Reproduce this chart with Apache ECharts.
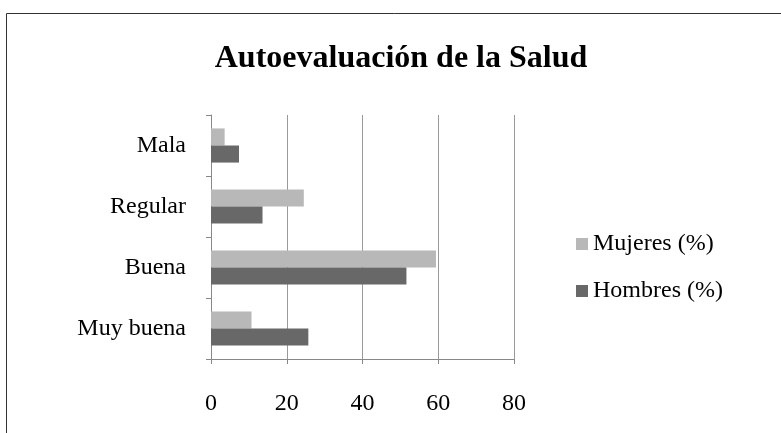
<!DOCTYPE html>
<html>
<head>
<meta charset="utf-8">
<script src="https://cdn.jsdelivr.net/npm/echarts@6/dist/echarts.min.js"></script>
<style>
  html, body { margin: 0; padding: 0; background: #fff; }
  #chart { width: 781px; height: 433px; }
</style>
</head>
<body>
<div id="chart"></div>
<script>
const categories = ['Mala', 'Regular', 'Buena', 'Muy buena']
const mujeres = [3.6, 24.5, 59.4, 10.7]
const hombres = [7.4, 13.6, 51.6, 25.7]
const xTicks = [0, 20, 40, 60, 80]

const serif = '"Liberation Serif", "DejaVu Serif", serif'

const chart = echarts.init(document.getElementById('chart'))

chart.setOption({
  animation: false,
  graphic: [{
    type: 'rect',
    shape: { x: 6.5, y: 13.5, width: 800, height: 500 },
    style: { fill: 'none', stroke: '#333', lineWidth: 1 }
  }],
  title: {
    text: 'Autoevaluación de la Salud',
    left: 396,
    top: 38,
    textAlign: 'center',
    textStyle: { fontFamily: serif, fontSize: 32, fontWeight: 'bold', color: '#000' }
  },
  legend: {
    orient: 'vertical',
    left: 571,
    top: 227,
    itemWidth: 12,
    itemHeight: 12,
    itemGap: 23,
    icon: 'rect',
    textStyle: { fontFamily: serif, fontSize: 24, color: '#000' },
    data: ['Mujeres (%)', 'Hombres (%)']
  },
  grid: { left: 211, right: 267, top: 115, bottom: 74 },
  xAxis: {
    type: 'value',
    min: xTicks[0],
    max: xTicks[xTicks.length - 1],
    interval: 20,
    axisLine: { show: true, lineStyle: { color: '#888' } },
    axisTick: { show: true, length: 5, lineStyle: { color: '#888' } },
    axisLabel: { margin: 33, fontFamily: serif, fontSize: 24, color: '#000' },
    splitLine: { show: true, lineStyle: { color: '#999' } }
  },
  yAxis: {
    type: 'category',
    inverse: true,
    data: categories,
    axisLine: { show: true, lineStyle: { color: '#888' } },
    axisTick: { show: true, length: 5, lineStyle: { color: '#888' } },
    axisLabel: { margin: 25, fontFamily: serif, fontSize: 24, color: '#000' }
  },
  series: [{
    name: 'Mujeres (%)',
    type: 'bar',
    data: mujeres,
    barGap: '0%',
    barCategoryGap: '44%',
    itemStyle: { color: '#b8b8b8' }
  }, {
    name: 'Hombres (%)',
    type: 'bar',
    data: hombres,
    barGap: '0%',
    barCategoryGap: '44%',
    itemStyle: { color: '#686868' }
  }]
})
</script>
</body>
</html>
